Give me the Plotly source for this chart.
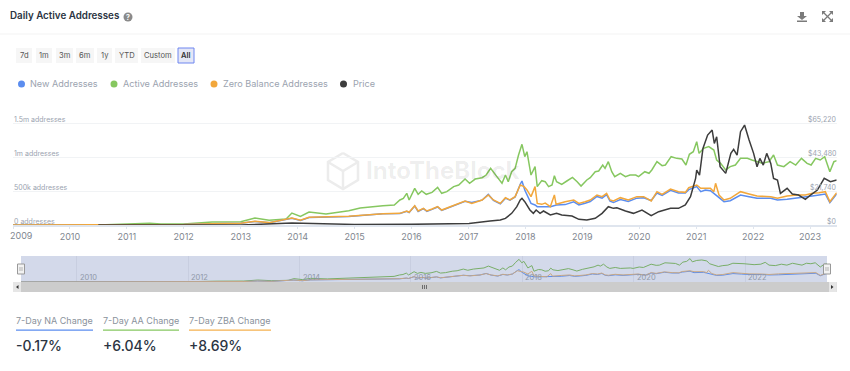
import plotly.graph_objects as go

# ---------- data (decimal year, addresses in thousands, price in USD) ----------
green_t = [2009.0,2010.5,2011.4,2011.6,2012.0,2012.5,2013.0,2013.25,2013.5,2013.8,2013.9,2014.05,2014.2,2014.5,2014.9,2015.0,2015.1,2015.5,2015.7,2015.80,2015.86,2015.92,2015.96,2016.06,2016.12,2016.18,2016.26,2016.36,2016.46,2016.53,2016.62,2016.74,2016.83,2016.94,2017.02,2017.12,2017.24,2017.31,2017.39,2017.50,2017.59,2017.65,2017.70,2017.76,2017.82,2017.88,2017.94,2017.99,2018.03,2018.10,2018.17,2018.21,2018.29,2018.35,2018.41,2018.47,2018.51,2018.55,2018.64,2018.73,2018.83,2018.91,2018.98,2019.08,2019.14,2019.23,2019.29,2019.36,2019.40,2019.46,2019.52,2019.57,2019.67,2019.76,2019.84,2019.94,2019.99,2020.10,2020.17,2020.22,2020.31,2020.40,2020.46,2020.56,2020.66,2020.75,2020.82,2020.88,2020.95,2021.01,2021.05,2021.13,2021.22,2021.31,2021.36,2021.43,2021.52,2021.60,2021.69,2021.78,2021.90,2021.98,2022.07,2022.16,2022.28,2022.36,2022.43,2022.54,2022.65,2022.75,2022.85,2022.95,2023.02,2023.10,2023.18,2023.26,2023.35,2023.42,2023.47]
green_v = [0,0,25,15,15,44,49,103,69,88,176,127,191,162,211,235,250,284,294,368,392,466,368,539,451,500,451,480,554,466,490,564,588,676,613,676,696,735,833,711,613,735,637,784,833,1029,1186,1005,1078,735,858,564,652,637,564,588,725,637,598,647,701,637,573,662,696,784,794,882,833,931,784,711,760,711,735,735,711,784,760,809,931,872,882,1005,980,970,882,1039,1078,1225,1054,1127,1152,1103,956,907,809,858,882,980,980,956,931,907,931,1029,882,858,931,882,980,907,882,980,956,1005,784,931,946]

orange_t = [2009.0,2010.5,2011.5,2012.0,2012.5,2013.0,2013.25,2013.5,2013.9,2014.05,2014.2,2014.9,2015.5,2015.80,2015.92,2015.96,2016.06,2016.12,2016.21,2016.27,2016.36,2016.46,2016.53,2016.74,2016.94,2017.06,2017.24,2017.35,2017.44,2017.56,2017.65,2017.73,2017.82,2017.91,2017.98,2018.03,2018.10,2018.17,2018.21,2018.29,2018.35,2018.44,2018.51,2018.54,2018.70,2018.85,2018.94,2019.05,2019.14,2019.26,2019.35,2019.43,2019.49,2019.55,2019.67,2019.81,2019.96,2020.08,2020.21,2020.31,2020.40,2020.55,2020.69,2020.81,2020.87,2021.01,2021.08,2021.16,2021.25,2021.31,2021.34,2021.40,2021.49,2021.60,2021.78,2021.93,2022.07,2022.31,2022.43,2022.60,2022.77,2022.92,2023.04,2023.16,2023.27,2023.35,2023.42,2023.47]
orange_v = [0,0,8,8,20,25,54,35,103,69,113,127,167,171,206,186,284,206,245,206,235,270,220,294,353,318,368,441,368,318,402,368,417,588,564,515,417,564,318,304,323,270,441,304,343,368,318,343,368,441,417,466,368,353,402,368,417,417,353,490,451,529,490,480,549,588,539,539,539,490,613,441,368,392,490,456,426,416,392,426,441,441,466,475,490,343,426,475]

blue_t = [2009.0,2010.5,2011.5,2012.0,2012.5,2013.0,2013.25,2013.5,2013.9,2014.05,2014.2,2014.9,2015.5,2015.80,2015.92,2015.96,2016.06,2016.12,2016.21,2016.27,2016.36,2016.46,2016.53,2016.74,2016.94,2017.06,2017.24,2017.35,2017.44,2017.56,2017.65,2017.73,2017.82,2017.91,2017.94,2017.99,2018.03,2018.10,2018.17,2018.21,2018.29,2018.44,2018.55,2018.70,2018.85,2018.94,2019.05,2019.14,2019.26,2019.35,2019.43,2019.49,2019.55,2019.67,2019.81,2019.96,2020.08,2020.21,2020.31,2020.40,2020.55,2020.69,2020.81,2020.87,2021.01,2021.08,2021.16,2021.25,2021.31,2021.40,2021.49,2021.60,2021.78,2021.93,2022.07,2022.31,2022.43,2022.60,2022.77,2022.92,2023.04,2023.16,2023.27,2023.35,2023.42,2023.47]
blue_v = [0,0,8,8,20,25,52,33,100,67,110,125,165,168,200,182,278,200,240,200,230,265,215,290,350,330,365,450,360,310,395,365,412,600,647,515,441,318,294,270,270,270,295,300,340,295,320,345,420,395,445,350,330,375,345,395,400,360,470,435,510,470,470,520,564,490,515,505,466,407,343,358,441,416,392,392,368,377,392,407,426,441,456,328,407,456]

price_t = [2010.5,2013.0,2013.9,2014.5,2015.0,2016.0,2017.01,2017.38,2017.56,2017.65,2017.76,2017.85,2017.91,2017.94,2017.99,2018.08,2018.14,2018.19,2018.26,2018.32,2018.44,2018.55,2018.64,2018.82,2018.94,2019.08,2019.23,2019.35,2019.46,2019.55,2019.61,2019.76,2019.90,2020.05,2020.21,2020.34,2020.55,2020.69,2020.81,2020.90,2020.99,2021.01,2021.06,2021.12,2021.20,2021.28,2021.32,2021.36,2021.42,2021.52,2021.61,2021.66,2021.72,2021.78,2021.85,2021.93,2022.01,2022.07,2022.12,2022.18,2022.24,2022.31,2022.36,2022.43,2022.48,2022.60,2022.69,2022.80,2022.92,2023.01,2023.13,2023.25,2023.36,2023.47]
price_v = [50,20,1200,600,350,430,1000,2556,3195,4260,7455,11715,15975,17040,14910,9585,7455,9585,7455,8946,6390,7455,6390,5751,3621,3195,4260,7455,11715,10650,11076,8946,7455,9585,5964,8520,10650,10650,12780,18105,29820,35145,31950,48990,57510,60705,52185,56445,37275,33015,45795,48351,44730,59640,63900,54315,45795,37275,42600,38340,45795,39405,29820,28755,20235,23430,19809,19170,16401,19170,22365,29820,27690,28755]

categories = ["New Addresses", "Active Addresses", "Zero Balance Addresses", "Price"]
y_ticks = [0, 500, 1000, 1500]
y_labels = ["0 addresses", "500k addresses", "1m addresses", "1.5m addresses"]
price_ticks = [0, 21740, 43480, 65220]
price_labels = ["$0", "$21,740", "$43,480", "$65,220"]
years = list(range(2010, 2024))
nav_years = [2010, 2012, 2014, 2016, 2018, 2020, 2022]
range_buttons = ["7d", "1m", "3m", "6m", "1y", "YTD", "Custom", "All"]
stat_labels = ["7-Day NA Change", "7-Day AA Change", "7-Day ZBA Change"]
stat_values = ["-0.17%", "+6.04%", "+8.69%"]

BLUE, GREEN, ORANGE, BLACK = "#5b8def", "#86c760", "#f2a73b", "#3d3d3d"
W, H = 850, 371


def iso(y):
    yr = int(y)
    day = (y - yr) * 365.0
    months = [31, 28, 31, 30, 31, 30, 31, 31, 30, 31, 30, 31]
    m = 0
    while day >= months[m]:
        day -= months[m]
        m += 1
    return f"{yr}-{m + 1:02d}-{int(day) + 1:02d}"


def dates(ts):
    return [iso(t) for t in ts]


px = lambda x: x / W
py = lambda y: 1 - y / H

fig = go.Figure()
# main lines
fig.add_trace(go.Scatter(x=dates(green_t), y=green_v, name=categories[1], xaxis="x", yaxis="y",
                         mode="lines", line=dict(color=GREEN, width=1.5)))
fig.add_trace(go.Scatter(x=dates(blue_t), y=blue_v, name=categories[0], xaxis="x", yaxis="y",
                         mode="lines", line=dict(color=BLUE, width=1.5)))
fig.add_trace(go.Scatter(x=dates(orange_t), y=orange_v, name=categories[2], xaxis="x", yaxis="y",
                         mode="lines", line=dict(color=ORANGE, width=1.5)))
fig.add_trace(go.Scatter(x=dates(price_t), y=price_v, name=categories[3], xaxis="x", yaxis="y2",
                         mode="lines", line=dict(color=BLACK, width=1.5)))
# navigator lines
fig.add_trace(go.Scatter(x=dates(green_t), y=green_v, xaxis="x2", yaxis="y3", mode="lines",
                         line=dict(color="#79ae68", width=1)))
fig.add_trace(go.Scatter(x=dates(blue_t), y=blue_v, xaxis="x2", yaxis="y3", mode="lines",
                         line=dict(color=BLUE, width=1)))
fig.add_trace(go.Scatter(x=dates(orange_t), y=orange_v, xaxis="x2", yaxis="y3", mode="lines",
                         line=dict(color="#c9a884", width=1)))

shapes = []
ann = []


def rect(x0, y0, x1, y1, fill, line=None, lw=0, layer="below"):
    shapes.append(dict(type="rect", xref="paper", yref="paper", x0=px(x0), x1=px(x1), y0=py(y0), y1=py(y1),
                       fillcolor=fill, line=dict(color=line or fill, width=lw), layer=layer))


def text(x, y, s, size, color, anchor="left", weight=None, family="Inter"):
    f = dict(size=size, color=color, family=family)
    if weight:
        f["weight"] = weight
    ann.append(dict(text=s, x=px(x), y=py(y), xref="paper", yref="paper", xanchor=anchor, yanchor="middle",
                    showarrow=False, font=f, borderpad=0, borderwidth=0))


def path(points, fill=None, line=None, lw=1, layer="above"):
    d = "M " + " L ".join(f"{px(a):.5f},{py(b):.5f}" for a, b in points)
    if fill:
        d += " Z"
    shapes.append(dict(type="path", xref="paper", yref="paper", path=d, fillcolor=fill or "rgba(0,0,0,0)",
                       line=dict(color=line or "rgba(0,0,0,0)", width=lw), layer=layer))


def circle(cx, cy, r, fill, layer="above"):
    shapes.append(dict(type="circle", xref="paper", yref="paper", x0=px(cx - r), x1=px(cx + r), y0=py(cy + r),
                       y1=py(cy - r), fillcolor=fill, line=dict(width=0), layer=layer))


# header
text(10, 16.5, "Daily Active Addresses", 9.8, "#2b3442", weight=600)
circle(128, 17, 4.5, "#8a8a8a")
text(128, 17, "?", 7, "#ffffff", "center", weight=700)
rect(0, 33.6, 850, 34.4, "#f3f3f3")

# download icon
path([(800, 12), (804, 12), (804, 16), (807, 16), (802, 20), (797, 16), (800, 16)], fill="#7b7b7b")
rect(797, 20.5, 807, 22, "#7b7b7b", layer="above")
# expand icon
for a, b, c, d in [(823, 12, 832, 21), (832, 12, 823, 21)]:
    path([(a, b), (c, d)], line="#7b7b7b", lw=1.2)
for cx, cy, sx, sy in [(823, 12, 1, 1), (832, 12, -1, 1), (823, 21, 1, -1), (832, 21, -1, -1)]:
    path([(cx - sx, cy - sy), (cx + 3 * sx, cy - sy), (cx - sx, cy + 3 * sy)], fill="#7b7b7b")

# range buttons
btn_x = [(16, 32), (36, 52), (56, 73), (76, 94), (97, 112), (115, 138), (141, 175), (178, 194)]
for lab, (a, b) in zip(range_buttons, btn_x):
    active = lab == "All"
    rect(a, 48, b, 63, "#e4e7f6" if active else "#f6f6f6", "#6f86f0" if active else None, 1 if active else 0)
    text((a + b) / 2, 56, lab, 7.6, "#333333" if active else "#555555", "center", weight=600 if active else 400)

# legend
leg = [(21.5, BLUE, 30, categories[0]), (114, GREEN, 123, categories[1]),
       (214, ORANGE, 223, categories[2]), (343.5, BLACK, 353, categories[3])]
for cx, col, tx, lab in leg:
    circle(cx, 84, 3.5, col)
    text(tx, 83.5, lab, 9.1, "#9ba3af")

# watermark
hexa = [(343, 153), (358, 162), (358, 180), (343, 189), (328, 180), (328, 162), (343, 153)]
path(hexa, line="#ececec", lw=2.5, layer="below")
path([(328, 162), (343, 171), (358, 162)], line="#ececec", lw=2.5, layer="below")
path([(343, 171), (343, 189)], line="#ececec", lw=2.5, layer="below")
text(366, 171, "IntoTheBlock", 24, "rgba(0,0,0,0.075)", weight=700)

# navigator background & scrollbar
rect(21, 256, 827, 282, "#d3d9ea")
rect(13, 282, 836.7, 292, "#cccccc")
rect(13, 282, 21, 292, "#e6e6e6")
rect(829, 282, 836.7, 292, "#e6e6e6")
path([(18.5, 285), (18.5, 289), (16, 287)], fill="#333333")
path([(831, 285), (831, 289), (833.5, 287)], fill="#333333")
for gx in (422.5, 424.5, 426.5):
    path([(gx, 285), (gx, 289)], line="#444444", lw=0.7)
for hx in (21, 827):
    rect(hx - 3.5, 264, hx + 3.5, 274, "#f2f2f2", "#999999", 1, layer="above")
    path([(hx - 1, 267), (hx - 1, 271)], line="#999999", lw=0.7)
    path([(hx + 1, 267), (hx + 1, 271)], line="#999999", lw=0.7)

# stats
stat_x = [(16, 93, BLUE), (103, 179, GREEN), (189, 271, "#f5b14f")]
for (a, b, col), lab, val in zip(stat_x, stat_labels, stat_values):
    text(a, 320, lab, 9, "#8a929c")
    rect(a, 329.6, b, 330.8, col)
    text(a, 345, val, 14, "#2b3442", weight=500)

# 2009 label sits inside the plot, not centred on its tick
text(21, 235, "2009", 9, "#7f8790", "center")

# axis value labels sit above their gridlines, inside the plot
for v, lab in zip(y_ticks, y_labels):
    ann.append(dict(text=lab, x=px(13), xref="paper", xanchor="left", y=v, yref="y", yanchor="bottom", yshift=-2,
                    showarrow=False, borderpad=0, font=dict(size=7, color="#9ba3af", family="Inter")))
for v, lab in zip(price_ticks, price_labels):
    ann.append(dict(text=lab, x=px(836.5), xref="paper", xanchor="right", y=v, yref="y2", yanchor="bottom", yshift=-2,
                    showarrow=False, borderpad=0, font=dict(size=7, color="#9ba3af", family="Inter")))
# navigator year labels sit right of their gridlines
for y in nav_years:
    ann.append(dict(text=str(y), x=f"{y}-01-01", xref="x2", xanchor="left", xshift=2, y=py(277), yref="paper",
                    yanchor="middle", showarrow=False, borderpad=0,
                    font=dict(size=7.5, color="#8f98a8", family="Inter")))

axis_common = dict(showline=False, zeroline=False)
fig.update_layout(
    width=W, height=H, autosize=False, margin=dict(l=0, r=0, t=0, b=0),
    paper_bgcolor="white", plot_bgcolor="rgba(0,0,0,0)", showlegend=False, hovermode=False,
    font=dict(family="Inter"),
    shapes=shapes, annotations=ann,
    xaxis=dict(domain=[px(13), px(836.7)], anchor="y", type="date", range=["2009-01-01", iso(2023.47)],
               tickvals=[f"{y}-01-01" for y in [2009] + years], ticktext=[""] + [str(y) for y in years],
               showgrid=False, ticks="outside", ticklen=2, tickcolor="#dfe5ee", tickwidth=1,
               tickfont=dict(size=9, color="#7f8790"), showline=True, linecolor="#dfe5ee", linewidth=1.5,
               zeroline=False, fixedrange=True),
    yaxis=dict(domain=[py(225), py(118)], range=[0, 1500 * 107 / 102], tickvals=y_ticks, showticklabels=False,
               gridcolor="#f1f3f5", gridwidth=1, fixedrange=True, **axis_common),
    yaxis2=dict(domain=[py(225), py(118)], range=[0, 65220 * 107 / 102], overlaying="y", side="right", anchor="x",
                tickvals=price_ticks, showticklabels=False, showgrid=False, fixedrange=True, **axis_common),
    xaxis2=dict(domain=[px(21), px(827)], anchor="y3", type="date", range=["2009-01-01", iso(2023.47)],
                tickvals=[f"{y}-01-01" for y in nav_years], showticklabels=False,
                showgrid=True, gridcolor="#c8cee0", gridwidth=1, fixedrange=True, **axis_common),
    yaxis3=dict(domain=[py(282), py(256)], range=[0, 1360], anchor="x2", showticklabels=False,
                showgrid=False, fixedrange=True, **axis_common),
)

fig.write_html("out.html", post_script="document.body.style.margin='0';document.documentElement.style.overflow='hidden';",
               config={"displayModeBar": False})
